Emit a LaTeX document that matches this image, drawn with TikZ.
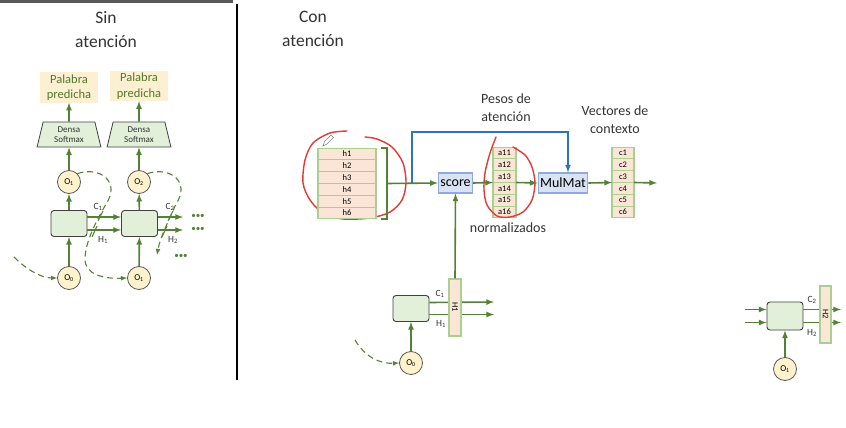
\documentclass[tikz,border=0pt]{standalone}
\usepackage{fontspec}
\setmainfont{Carlito}
\usepackage{xcolor}
\usetikzlibrary{positioning,shapes.geometric}
\definecolor{arrowgreen}{HTML}{548235}
\definecolor{textgreen}{HTML}{4F7A28}
\definecolor{cellfill}{HTML}{E2F0D9}
\definecolor{celldraw}{HTML}{404040}
\definecolor{circfill}{HTML}{FFF2CC}
\definecolor{circdraw}{HTML}{595959}
\definecolor{palfill}{HTML}{FCEFD2}
\definecolor{rowfill}{HTML}{FBE5D6}
\definecolor{rowdraw}{HTML}{A9D18E}
\definecolor{boxfill}{HTML}{DAE3F3}
\definecolor{boxdraw}{HTML}{8FAADC}
\definecolor{blueline}{HTML}{2E75B6}
\definecolor{redink}{HTML}{E53935}
\definecolor{darktext}{HTML}{333333}

\begin{document}
\begin{tikzpicture}[x=1pt, y=-1pt,
  flow/.style={-latex, draw=arrowgreen, line width=1.6},
  dashflow/.style={-latex, draw=arrowgreen, line width=1.1, dash pattern=on 6pt off 4pt},
  slash/.style={draw=arrowgreen, line width=1.1},
  blueflow/.style={-latex, draw=blueline, line width=1.6},
  scribble/.style={draw=redink, line width=1.4, line cap=round},
  cell/.style={draw=celldraw, fill=cellfill, rounded corners=3pt, line width=0.9, minimum width=36, minimum height=26},
  outc/.style={circle, draw=circdraw, fill=circfill, line width=0.8, minimum size=23, inner sep=0, font=\fontsize{9}{10}\selectfont},
  palabra/.style={fill=palfill, text=textgreen, align=center, minimum width=58, minimum height=30, inner sep=1, font=\fontsize{12.5}{15.5}\selectfont},
  densa/.style={trapezium, trapezium stretches=true, trapezium left angle=78, trapezium right angle=78, draw=celldraw, fill=cellfill, line width=0.8, minimum width=64, minimum height=25, inner sep=0, align=center, text=darktext, font=\fontsize{9}{10.5}\selectfont},
  hrow/.style={draw=rowdraw, fill=rowfill, line width=1.1, outer sep=0, minimum width=58, minimum height=11.8, inner sep=0, font=\fontsize{8.5}{9}\selectfont},
  arow/.style={hrow, minimum width=23},
  crow/.style={hrow, minimum width=22},
  opbox/.style={draw=boxdraw, fill=boxfill, line width=1.1, inner sep=2, minimum height=20, font=\fontsize{14}{14}\selectfont},
  hbar/.style={draw=rowdraw, fill=rowfill, line width=1.1, minimum width=12, minimum height=57, inner sep=0, font=\fontsize{8.5}{9}\selectfont},
  lbl/.style={inner sep=0, text=darktext, font=\fontsize{9.5}{10}\selectfont},
  dots/.style={inner sep=0, text=arrowgreen, font=\fontsize{9}{10}\selectfont},
  note/.style={align=center, text=darktext, font=\fontsize{14}{18}\selectfont},
  title/.style={align=center, text=darktext, font=\fontsize{17.5}{24}\selectfont}]
\useasboundingbox (0,0) rectangle (846,428);

\fill[gray!70!black] (0,0) rectangle (233,3);
\draw[line width=2.2] (237,4) -- (237,380);

\node[title] (sin) at (106,30) {Sin\\atención};
\node[title] (con) at (313,29) {Con\\atención};

\node[palabra] (pal1) at (69,87.5) {Palabra\\predicha};
\node[palabra] (pal2) at (139,86) {Palabra\\predicha};
\node[densa] (den1) at (69,134.5) {Densa\\Softmax};
\node[densa] (den2) at (139,134.5) {Densa\\Softmax};
\node[outc] (o1a) at (69,182) {O\textsubscript{1}};
\node[outc] (o2a) at (139,182) {O\textsubscript{2}};
\node[cell] (cell1) at (69,223.5) {};
\node[cell] (cell2) at (139.5,223.5) {};
\node[outc] (o0a) at (69,278) {O\textsubscript{0}};
\node[outc] (o1b) at (139,278) {O\textsubscript{1}};
\coordinate (c2end) at (183,217);
\coordinate (h2end) at (183,230);
\coordinate (dleft) at (14,257);
\coordinate (d2end) at (157,255);

\draw[flow] (den1) -- (pal1);
\draw[flow] (den2) -- (pal2);
\draw[flow] (o1a) -- (den1);
\draw[flow] (o2a) -- (den2);
\draw[flow] (cell1) -- (o1a);
\draw[flow] (cell2) -- (o2a);
\draw[flow] (o0a) -- (cell1);
\draw[flow] (o1b) -- (cell2);
\draw[flow] ([yshift=6.5pt]cell1.east) -- ([yshift=6.5pt]cell2.west);
\draw[flow] ([yshift=-6.5pt]cell1.east) -- ([yshift=-6.5pt]cell2.west);
\draw[flow] ([yshift=6.5pt]cell2.east) -- (c2end);
\draw[flow] ([yshift=-6.5pt]cell2.east) -- (h2end);
\draw[dashflow] (o1a.north east) .. controls (100,166) and (121,182) .. (106,204) .. controls (96,222) and (86,240) .. (85,258) .. controls (84,275) and (105,279) .. (o1b.west);
\draw[dashflow] (o2a.north east) .. controls (170,166) and (191,182) .. (176,204) .. controls (168,222) and (160,238) .. (d2end);
\draw[dashflow] (dleft) .. controls (25,268) and (40,278) .. (o0a.west);
\draw[slash] (98,221) -- (103,211);
\draw[slash] (92,237) -- (97,226);
\draw[slash] (168,221) -- (173,211);
\draw[slash] (162,237) -- (167,226);
\node[lbl] (c1l) at (98,207) {C\textsubscript{1}};
\node[lbl] (h1l) at (103,240) {H\textsubscript{1}};
\node[lbl] (c2l) at (170,207) {C\textsubscript{2}};
\node[lbl] (h2l) at (173,240) {H\textsubscript{2}};
\node[dots] (dotc) at (198,216.5) {•••};
\node[dots] (doth) at (198,229.5) {•••};
\node[dots] (dotd) at (181,256.5) {•••};

\draw[scribble] plot[smooth] coordinates {(347,131) (330,133) (313,143) (305,160) (303,183) (310,200) (323,213) (343,219) (370,218) (390,212) (402,200) (406,183) (403,163) (392,147) (377,139) (365,137)};
\draw[draw=gray, line width=0.6, fill=white] (323,146) -- (324.5,141.5) -- (331,135) -- (333.5,137.5) -- (327,144) -- cycle;

\node[hrow] (h1) at (347,154) {h1};
\node[hrow, below=0pt of h1] (h2) {h2};
\node[hrow, below=0pt of h2] (h3) {h3};
\node[hrow, below=0pt of h3] (h4) {h4};
\node[hrow, below=0pt of h4] (h5) {h5};
\node[hrow, below=0pt of h5] (h6) {h6};
\draw[draw=arrowgreen, line width=1.4] ([xshift=5pt]h1.north east) -- ++(6,0) |- ([xshift=5pt]h6.south east);
\coordinate (hj) at ([xshift=11pt]h3.south east);

\node[opbox] (score) at (455.5,183) {score};
\node[arow] (a1) at (504.5,153) {a11};
\node[arow, below=0pt of a1] (a2) {a12};
\node[arow, below=0pt of a2] (a3) {a13};
\node[arow, below=0pt of a3] (a4) {a14};
\node[arow, below=0pt of a4] (a5) {a15};
\node[arow, below=0pt of a5] (a6) {a16};
\node[opbox] (mm) at (563,183) {MulMat};
\node[crow] (c1) at (623,153) {c1};
\node[crow, below=0pt of c1] (c2) {c2};
\node[crow, below=0pt of c2] (c3) {c3};
\node[crow, below=0pt of c3] (c4) {c4};
\node[crow, below=0pt of c4] (c5) {c5};
\node[crow, below=0pt of c5] (c6) {c6};
\coordinate (split) at (412,183);
\coordinate (bend) at (568,132);
\coordinate (cout) at (657,183);

\draw[scribble] plot[smooth] coordinates {(496,137) (490,153) (485,173) (484,190) (487,205) (497,216) (510,217) (523,212) (532,200) (535,183) (532,167) (525,155) (513,147)};

\draw[flow] (hj) -- (score.west);
\draw[blueflow] (split) |- (bend) -- (bend |- mm.north);
\draw[flow] (score.east) -- (a3.south west);
\draw[flow] (a3.south east) -- (mm.west);
\draw[flow] (mm.east) -- (c3.south west);
\draw[flow] (c3.south east) -- (cout);

\node[note] (pesos) at (506,108) {Pesos de\\atención};
\node[note] (norm) at (508,228) {normalizados};
\node[note] (vect) at (615,120) {Vectores de\\contexto};

\node[cell] (cm) at (411,308.5) {};
\node[outc] (o0m) at (411,363) {O\textsubscript{0}};
\coordinate (c1end) at (494,302);
\coordinate (h1end) at (494,314.5);
\coordinate (dstart) at (355,340);
\draw[flow] ([yshift=6pt]cm.east) -- (c1end);
\draw[flow] ([yshift=-6pt]cm.east) -- (h1end);
\node[hbar] (bar1) at (455,307.5) {\rotatebox{-90}{H1}};
\draw[flow] (bar1.north) -- (score.south);
\draw[flow] (o0m) -- (cm);
\draw[dashflow] (dstart) .. controls (365,357) and (380,364) .. (o0m.west);
\node[lbl] (c1m) at (440,294) {C\textsubscript{1}};
\node[lbl] (h1m) at (441,324) {H\textsubscript{1}};

\node[cell, minimum height=28] (cr) at (785,316) {};
\node[outc] (o1r) at (785,369) {O\textsubscript{1}};
\coordinate (in1) at (745,309.5);
\coordinate (in2) at (745,322.5);
\coordinate (c2r) at (841,309.5);
\coordinate (h2r) at (841,322.5);
\draw[flow] (in1) -- ([yshift=6.5pt]cr.west);
\draw[flow] (in2) -- ([yshift=-6.5pt]cr.west);
\draw[flow] ([yshift=6.5pt]cr.east) -- (c2r);
\draw[flow] ([yshift=-6.5pt]cr.east) -- (h2r);
\node[hbar, minimum width=11] (bar2) at (825.5,314.5) {\rotatebox{-90}{H2}};
\draw[flow] (o1r) -- (cr);
\node[lbl] (c2m) at (812,300) {C\textsubscript{2}};
\node[lbl] (h2m) at (812,333) {H\textsubscript{2}};
\end{tikzpicture}
\end{document}
